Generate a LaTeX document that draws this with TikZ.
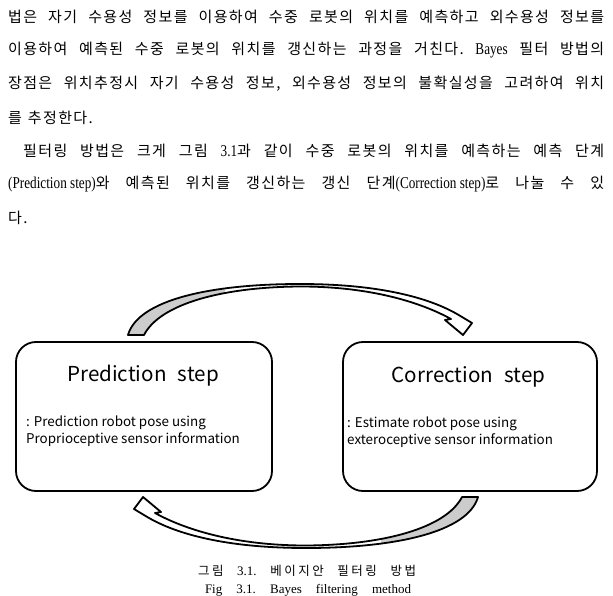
\documentclass[tikz,border=0pt]{standalone}
\usepackage{fontspec}
\setmainfont{Liberation Serif}
\newfontfamily\kr[LetterSpace=9]{Noto Sans CJK KR}
\newfontfamily\krcap[LetterSpace=20]{Noto Sans CJK KR}
\newfontfamily\boxfont{Noto Sans CJK KR}
\newfontfamily\latfont[FakeStretch=0.8]{Liberation Serif}
\newcommand\lat[1]{{\latfont\fontsize{16.5}{17}\selectfont #1}}
\tikzset{
  stepbox/.style={draw, line width=1.8pt, rounded corners=20pt, minimum width=256pt, minimum height=149pt, inner sep=0pt},
  bodyline/.style={anchor=west, inner sep=0pt, font=\fontsize{15}{16}\selectfont\kr},
  titletext/.style={inner sep=0pt, font=\fontsize{20.6}{24}\selectfont\boxfont},
  desctext/.style={anchor=west, inner sep=0pt, align=left, font=\fontsize{13.4}{17}\selectfont\boxfont},
  band/.style={line width=1.8pt, line join=round},
  bandfill/.style={fill=gray!40}
}
\def\arrowband{(128,335) .. controls (138,300) and (210,284) .. (300,284) .. controls (380,284) and (432,298) .. (462,317) -- (472,323) -- (463,335) -- (445,320) -- (451,319) .. controls (422,303) and (372,286.5) .. (300,286.5) .. controls (222,287) and (160,304) .. (144,335) -- cycle}
\begin{document}
\begin{tikzpicture}[x=1pt,y=-1pt]
\useasboundingbox (0,0) rectangle (613,596);
% body text
\node[bodyline] (l1) at (8,17) {\makebox[596pt][s]{법은\hfill 자기\hfill 수용성\hfill 정보를\hfill 이용하여\hfill 수중\hfill 로봇의\hfill 위치를\hfill 예측하고\hfill 외수용성\hfill 정보를}};
\node[bodyline] (l2) at (8,50.5) {\makebox[596pt][s]{이용하여\hfill 예측된\hfill 수중\hfill 로봇의\hfill 위치를\hfill 갱신하는\hfill 과정을\hfill 거친다.\hfill \lat{Bayes}\hfill 필터\hfill 방법의}};
\node[bodyline] (l3) at (8,84) {\makebox[596pt][s]{장점은\hfill 위치추정시\hfill 자기\hfill 수용성\hfill 정보,\hfill 외수용성\hfill 정보의\hfill 불확실성을\hfill 고려하여\hfill 위치}};
\node[bodyline] (l4) at (8,117.5) {를\hspace{6pt}추정한다.};
\node[bodyline] (l5) at (23,151) {\makebox[581pt][s]{필터링\hfill 방법은\hfill 크게\hfill 그림\hfill \lat{3.1}과\hfill 같이\hfill 수중\hfill 로봇의\hfill 위치를\hfill 예측하는\hfill 예측\hfill 단계}};
\node[bodyline] (l6) at (8,184.5) {\makebox[596pt][s]{\lat{(Prediction step)}와\hfill 예측된\hfill 위치를\hfill 갱신하는\hfill 갱신\hfill 단계\lat{(Correction step)}로\hfill 나눌\hfill 수\hfill 있}};
\node[bodyline] (l7) at (8,218) {다.};
% arrows
\begin{scope}
  \fill[white] \arrowband;
  \begin{scope}
    \clip (100,250) rectangle (225,340);
    \fill[bandfill] \arrowband;
  \end{scope}
  \draw[band] \arrowband;
\end{scope}
\begin{scope}[rotate around={180:(303,416)}]
  \fill[white] \arrowband;
  \begin{scope}
    \clip (100,250) rectangle (225,340);
    \fill[bandfill] \arrowband;
  \end{scope}
  \draw[band] \arrowband;
\end{scope}
% boxes
\node[stepbox] (pbox) at (144,416.5) {};
\node[stepbox, minimum width=254pt] (cbox) at (470,416.5) {};
\node[titletext] (ptitle) at (143,376) {Prediction\hspace{0.55em}step};
\node[titletext] (ctitle) at (468.5,377) {Correction\hspace{0.55em}step};
\node[desctext] (pdesc) at (26,431.5) {: Prediction robot pose using\\Proprioceptive sensor information};
\node[desctext] (cdesc) at (347,432) {: Estimate robot pose using\\exteroceptive sensor information};
% captions
\node[inner sep=0pt, font=\fontsize{12.5}{14}\selectfont\krcap] (capkr) at (307,571) {\makebox[218pt][s]{그림\hfill {\rmfamily\fontsize{13}{14}\selectfont 3.1.}\hfill 베이지안\hfill 필터링\hfill 방법}};
\node[inner sep=0pt, font=\fontsize{13}{14}\selectfont\rmfamily] (capen) at (308,590) {\makebox[206pt][s]{Fig\hfill 3.1.\hfill Bayes\hfill filtering\hfill method}};
\end{tikzpicture}
\end{document}
